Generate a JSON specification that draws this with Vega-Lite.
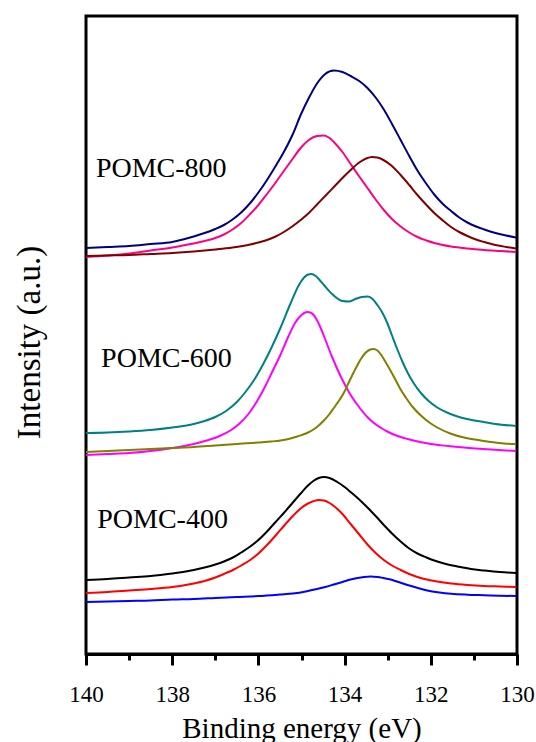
{
  "$schema": "https://vega.github.io/schema/vega-lite/v6.json",
  "autosize": "none",
  "padding": {"left": 86, "top": 16, "right": 19, "bottom": 88},
  "width": 431,
  "height": 638,
  "config": {
    "view": {"stroke": "black", "strokeWidth": 3},
    "font": "Liberation Serif"
  },
  "datasets": {
    "curves": [
      {"s":"A","E":140,"I":406},{"s":"A","E":139.5,"I":407},{"s":"A","E":139,"I":408},{"s":"A","E":138.5,"I":410},{"s":"A","E":138,"I":412},{"s":"A","E":137.75,"I":414.5},{"s":"A","E":137.5,"I":417.5},{"s":"A","E":137.25,"I":421},{"s":"A","E":137,"I":425},{"s":"A","E":136.8,"I":429},{"s":"A","E":136.6,"I":434.5},{"s":"A","E":136.4,"I":441.5},{"s":"A","E":136.19,"I":451},{"s":"A","E":136,"I":461.5},{"s":"A","E":135.8,"I":474},{"s":"A","E":135.6,"I":488},{"s":"A","E":135.41,"I":502},{"s":"A","E":135.2,"I":520},{"s":"A","E":135.02,"I":539},{"s":"A","E":134.83,"I":556},{"s":"A","E":134.64,"I":570.5},{"s":"A","E":134.45,"I":580},{"s":"A","E":134.25,"I":583.5},{"s":"A","E":134.05,"I":582},{"s":"A","E":133.86,"I":578},{"s":"A","E":133.66,"I":573},{"s":"A","E":133.47,"I":566},{"s":"A","E":133.28,"I":556.5},{"s":"A","E":133.09,"I":544.5},{"s":"A","E":132.9,"I":530},{"s":"A","E":132.7,"I":514},{"s":"A","E":132.5,"I":498},{"s":"A","E":132.31,"I":483.5},{"s":"A","E":132.1,"I":470},{"s":"A","E":131.92,"I":459.5},{"s":"A","E":131.72,"I":450},{"s":"A","E":131.53,"I":443},{"s":"A","E":131.34,"I":436.5},{"s":"A","E":131.15,"I":431.5},{"s":"A","E":130.95,"I":427.5},{"s":"A","E":130.76,"I":424.5},{"s":"A","E":130.5,"I":421},{"s":"A","E":130.25,"I":418.5},{"s":"A","E":130.02,"I":416.5},
      {"s":"B","E":140,"I":397},{"s":"B","E":139.5,"I":398.5},{"s":"B","E":139,"I":400.5},{"s":"B","E":138.5,"I":403.5},{"s":"B","E":138,"I":406.5},{"s":"B","E":137.75,"I":408.5},{"s":"B","E":137.5,"I":410.5},{"s":"B","E":137.25,"I":413},{"s":"B","E":137,"I":416},{"s":"B","E":136.8,"I":419.5},{"s":"B","E":136.6,"I":424.5},{"s":"B","E":136.4,"I":431},{"s":"B","E":136.19,"I":440},{"s":"B","E":136,"I":449},{"s":"B","E":135.8,"I":460},{"s":"B","E":135.6,"I":471.5},{"s":"B","E":135.41,"I":483},{"s":"B","E":135.2,"I":495.5},{"s":"B","E":135.02,"I":506},{"s":"B","E":134.83,"I":514},{"s":"B","E":134.64,"I":518},{"s":"B","E":134.48,"I":518.5},{"s":"B","E":134.35,"I":516},{"s":"B","E":134.25,"I":512},{"s":"B","E":134.05,"I":502},{"s":"B","E":133.86,"I":490},{"s":"B","E":133.66,"I":477.5},{"s":"B","E":133.47,"I":466},{"s":"B","E":133.28,"I":454.5},{"s":"B","E":133.09,"I":444},{"s":"B","E":132.9,"I":435},{"s":"B","E":132.7,"I":427.5},{"s":"B","E":132.5,"I":421.5},{"s":"B","E":132.31,"I":417},{"s":"B","E":132.1,"I":413.5},{"s":"B","E":131.92,"I":411},{"s":"B","E":131.53,"I":407.5},{"s":"B","E":131.15,"I":405.5},{"s":"B","E":130.76,"I":404},{"s":"B","E":130.4,"I":403},{"s":"B","E":130.02,"I":402},
      {"s":"C","E":140,"I":398},{"s":"C","E":139.5,"I":398.5},{"s":"C","E":139,"I":399},{"s":"C","E":138.5,"I":400},{"s":"C","E":138,"I":401},{"s":"C","E":137.5,"I":402.5},{"s":"C","E":137,"I":404.5},{"s":"C","E":136.6,"I":406.5},{"s":"C","E":136.19,"I":409.5},{"s":"C","E":136,"I":411.5},{"s":"C","E":135.8,"I":414},{"s":"C","E":135.6,"I":417.5},{"s":"C","E":135.41,"I":422},{"s":"C","E":135.2,"I":428},{"s":"C","E":135.02,"I":434},{"s":"C","E":134.83,"I":441},{"s":"C","E":134.64,"I":449.5},{"s":"C","E":134.45,"I":458},{"s":"C","E":134.25,"I":467},{"s":"C","E":134.05,"I":476},{"s":"C","E":133.86,"I":484},{"s":"C","E":133.66,"I":491.5},{"s":"C","E":133.5,"I":495.5},{"s":"C","E":133.36,"I":497},{"s":"C","E":133.24,"I":496.5},{"s":"C","E":133.1,"I":494},{"s":"C","E":132.93,"I":489},{"s":"C","E":132.7,"I":479},{"s":"C","E":132.5,"I":469},{"s":"C","E":132.31,"I":459},{"s":"C","E":132.1,"I":449},{"s":"C","E":131.92,"I":441},{"s":"C","E":131.72,"I":433.5},{"s":"C","E":131.53,"I":427},{"s":"C","E":131.34,"I":422},{"s":"C","E":131.15,"I":418},{"s":"C","E":130.95,"I":414.5},{"s":"C","E":130.76,"I":412},{"s":"C","E":130.5,"I":409},{"s":"C","E":130.25,"I":407},{"s":"C","E":130.02,"I":405.5},
      {"s":"D","E":140,"I":221},{"s":"D","E":139.5,"I":221.5},{"s":"D","E":139,"I":222.5},{"s":"D","E":138.5,"I":224},{"s":"D","E":138,"I":226.5},{"s":"D","E":137.5,"I":230},{"s":"D","E":137.25,"I":233},{"s":"D","E":137,"I":237},{"s":"D","E":136.75,"I":243},{"s":"D","E":136.5,"I":252},{"s":"D","E":136.3,"I":262},{"s":"D","E":136.1,"I":274},{"s":"D","E":135.9,"I":289},{"s":"D","E":135.7,"I":306},{"s":"D","E":135.49,"I":326},{"s":"D","E":135.26,"I":350},{"s":"D","E":135.06,"I":369},{"s":"D","E":134.95,"I":376},{"s":"D","E":134.87,"I":379},{"s":"D","E":134.77,"I":380},{"s":"D","E":134.67,"I":378},{"s":"D","E":134.58,"I":374},{"s":"D","E":134.48,"I":369},{"s":"D","E":134.29,"I":360},{"s":"D","E":134.15,"I":355},{"s":"D","E":134.05,"I":353},{"s":"D","E":133.9,"I":352.5},{"s":"D","E":133.75,"I":355},{"s":"D","E":133.6,"I":357},{"s":"D","E":133.46,"I":357.5},{"s":"D","E":133.35,"I":355},{"s":"D","E":133.24,"I":349},{"s":"D","E":133.12,"I":341},{"s":"D","E":133.01,"I":331},{"s":"D","E":132.9,"I":318.5},{"s":"D","E":132.78,"I":305},{"s":"D","E":132.66,"I":292.5},{"s":"D","E":132.54,"I":281.5},{"s":"D","E":132.4,"I":271},{"s":"D","E":132.23,"I":261},{"s":"D","E":132.05,"I":253},{"s":"D","E":131.85,"I":246.5},{"s":"D","E":131.6,"I":241},{"s":"D","E":131.38,"I":237.5},{"s":"D","E":131.1,"I":234.5},{"s":"D","E":130.84,"I":232.5},{"s":"D","E":130.5,"I":230},{"s":"D","E":130.02,"I":228},
      {"s":"E","E":140,"I":199},{"s":"E","E":139.5,"I":200},{"s":"E","E":139,"I":201},{"s":"E","E":138.5,"I":203},{"s":"E","E":138,"I":206},{"s":"E","E":137.5,"I":210},{"s":"E","E":137.2,"I":213.5},{"s":"E","E":136.9,"I":218},{"s":"E","E":136.65,"I":223.5},{"s":"E","E":136.45,"I":230},{"s":"E","E":136.25,"I":239},{"s":"E","E":136.03,"I":253},{"s":"E","E":135.85,"I":267},{"s":"E","E":135.67,"I":283},{"s":"E","E":135.49,"I":299},{"s":"E","E":135.3,"I":318},{"s":"E","E":135.15,"I":331},{"s":"E","E":135,"I":339},{"s":"E","E":134.87,"I":342},{"s":"E","E":134.77,"I":341},{"s":"E","E":134.67,"I":336},{"s":"E","E":134.57,"I":327.5},{"s":"E","E":134.48,"I":318},{"s":"E","E":134.29,"I":297},{"s":"E","E":134.09,"I":277.5},{"s":"E","E":133.86,"I":259},{"s":"E","E":133.63,"I":245},{"s":"E","E":133.45,"I":236},{"s":"E","E":133.32,"I":231},{"s":"E","E":133.15,"I":226},{"s":"E","E":133.01,"I":222.5},{"s":"E","E":132.8,"I":218.5},{"s":"E","E":132.54,"I":215},{"s":"E","E":132.25,"I":212},{"s":"E","E":132,"I":210},{"s":"E","E":131.6,"I":208},{"s":"E","E":131.23,"I":206.5},{"s":"E","E":130.6,"I":204.5},{"s":"E","E":130.02,"I":203},
      {"s":"F","E":140,"I":202},{"s":"F","E":139.5,"I":203},{"s":"F","E":139,"I":204},{"s":"F","E":138.5,"I":205},{"s":"F","E":138,"I":206},{"s":"F","E":137.5,"I":207},{"s":"F","E":137,"I":208.5},{"s":"F","E":136.5,"I":210},{"s":"F","E":136,"I":211.5},{"s":"F","E":135.7,"I":212.5},{"s":"F","E":135.49,"I":213.5},{"s":"F","E":135.3,"I":215},{"s":"F","E":135.1,"I":217.5},{"s":"F","E":134.87,"I":221},{"s":"F","E":134.67,"I":226},{"s":"F","E":134.48,"I":233.5},{"s":"F","E":134.35,"I":240},{"s":"F","E":134.25,"I":246},{"s":"F","E":134.12,"I":254},{"s":"F","E":134.02,"I":261},{"s":"F","E":133.92,"I":270},{"s":"F","E":133.82,"I":279},{"s":"F","E":133.72,"I":287.5},{"s":"F","E":133.63,"I":294.5},{"s":"F","E":133.53,"I":300.5},{"s":"F","E":133.43,"I":304},{"s":"F","E":133.33,"I":305},{"s":"F","E":133.24,"I":303.5},{"s":"F","E":133.15,"I":299},{"s":"F","E":133.05,"I":292},{"s":"F","E":132.93,"I":283},{"s":"F","E":132.81,"I":273.5},{"s":"F","E":132.7,"I":264.5},{"s":"F","E":132.58,"I":256.5},{"s":"F","E":132.42,"I":247},{"s":"F","E":132.23,"I":238.5},{"s":"F","E":132.05,"I":232},{"s":"F","E":131.85,"I":226.5},{"s":"F","E":131.55,"I":220.5},{"s":"F","E":131.23,"I":216.5},{"s":"F","E":130.9,"I":214},{"s":"F","E":130.6,"I":212},{"s":"F","E":130.3,"I":210.5},{"s":"F","E":130.02,"I":210},
      {"s":"G","E":140,"I":74},{"s":"G","E":139.5,"I":75},{"s":"G","E":139,"I":76.5},{"s":"G","E":138.5,"I":78},{"s":"G","E":138,"I":80.5},{"s":"G","E":137.75,"I":82},{"s":"G","E":137.5,"I":84},{"s":"G","E":137.25,"I":86.5},{"s":"G","E":137,"I":89.5},{"s":"G","E":136.8,"I":92.5},{"s":"G","E":136.57,"I":97},{"s":"G","E":136.4,"I":101.5},{"s":"G","E":136.19,"I":107.5},{"s":"G","E":136,"I":114},{"s":"G","E":135.8,"I":122.5},{"s":"G","E":135.6,"I":132},{"s":"G","E":135.41,"I":141},{"s":"G","E":135.2,"I":151.5},{"s":"G","E":135.02,"I":160.5},{"s":"G","E":134.85,"I":168.5},{"s":"G","E":134.71,"I":173.5},{"s":"G","E":134.6,"I":176},{"s":"G","E":134.48,"I":177},{"s":"G","E":134.35,"I":176},{"s":"G","E":134.17,"I":172},{"s":"G","E":134,"I":167},{"s":"G","E":133.86,"I":162},{"s":"G","E":133.66,"I":154.5},{"s":"G","E":133.47,"I":146.5},{"s":"G","E":133.28,"I":138},{"s":"G","E":133.09,"I":129},{"s":"G","E":132.9,"I":120.5},{"s":"G","E":132.7,"I":112.5},{"s":"G","E":132.5,"I":105.5},{"s":"G","E":132.31,"I":100.5},{"s":"G","E":132.1,"I":96.5},{"s":"G","E":131.92,"I":93.5},{"s":"G","E":131.65,"I":90},{"s":"G","E":131.38,"I":87.5},{"s":"G","E":131.07,"I":85},{"s":"G","E":130.76,"I":83.5},{"s":"G","E":130.4,"I":82},{"s":"G","E":130.02,"I":81},
      {"s":"H","E":140,"I":61},{"s":"H","E":139.5,"I":62},{"s":"H","E":139,"I":63.5},{"s":"H","E":138.5,"I":65},{"s":"H","E":138,"I":67},{"s":"H","E":137.75,"I":68.5},{"s":"H","E":137.5,"I":70.5},{"s":"H","E":137.25,"I":73},{"s":"H","E":137,"I":76.5},{"s":"H","E":136.8,"I":80},{"s":"H","E":136.57,"I":84.5},{"s":"H","E":136.4,"I":88.5},{"s":"H","E":136.19,"I":94},{"s":"H","E":136,"I":100.5},{"s":"H","E":135.8,"I":109},{"s":"H","E":135.6,"I":118.5},{"s":"H","E":135.41,"I":128},{"s":"H","E":135.2,"I":138},{"s":"H","E":135.02,"I":145.5},{"s":"H","E":134.85,"I":150.5},{"s":"H","E":134.71,"I":153},{"s":"H","E":134.6,"I":154},{"s":"H","E":134.48,"I":153.5},{"s":"H","E":134.35,"I":151},{"s":"H","E":134.25,"I":148},{"s":"H","E":134.05,"I":140},{"s":"H","E":133.86,"I":130},{"s":"H","E":133.66,"I":119.5},{"s":"H","E":133.47,"I":109.5},{"s":"H","E":133.28,"I":101},{"s":"H","E":133.09,"I":94},{"s":"H","E":132.9,"I":88.5},{"s":"H","E":132.7,"I":84},{"s":"H","E":132.5,"I":80},{"s":"H","E":132.31,"I":77},{"s":"H","E":131.92,"I":73},{"s":"H","E":131.53,"I":70.5},{"s":"H","E":131.15,"I":69},{"s":"H","E":130.76,"I":68},{"s":"H","E":130.4,"I":67.5},{"s":"H","E":130.02,"I":67},
      {"s":"I","E":140,"I":52},{"s":"I","E":139.5,"I":52.5},{"s":"I","E":139,"I":53},{"s":"I","E":138.5,"I":53.5},{"s":"I","E":138,"I":54.5},{"s":"I","E":137.5,"I":55},{"s":"I","E":137,"I":56},{"s":"I","E":136.5,"I":57},{"s":"I","E":136,"I":58},{"s":"I","E":135.5,"I":59.5},{"s":"I","E":135.2,"I":60.5},{"s":"I","E":134.9,"I":62.5},{"s":"I","E":134.64,"I":65},{"s":"I","E":134.45,"I":67},{"s":"I","E":134.25,"I":69.5},{"s":"I","E":134.05,"I":72},{"s":"I","E":133.86,"I":74.5},{"s":"I","E":133.7,"I":76},{"s":"I","E":133.55,"I":77},{"s":"I","E":133.4,"I":77.5},{"s":"I","E":133.24,"I":77},{"s":"I","E":133.1,"I":76},{"s":"I","E":132.93,"I":74.5},{"s":"I","E":132.75,"I":72},{"s":"I","E":132.54,"I":69},{"s":"I","E":132.3,"I":66},{"s":"I","E":132.08,"I":63.5},{"s":"I","E":131.8,"I":61.5},{"s":"I","E":131.53,"I":60.2},{"s":"I","E":131.15,"I":59.3},{"s":"I","E":130.76,"I":58.8},{"s":"I","E":130.4,"I":58.3},{"s":"I","E":130.02,"I":58}
    ],
    "labels": [
      {"t": "POMC-800", "E": 139.77, "I": 477},
      {"t": "POMC-600", "E": 139.65, "I": 287},
      {"t": "POMC-400", "E": 139.74, "I": 126}
    ]
  },
  "layer": [
    {
      "data": {"name": "curves"},
      "mark": {"type": "line", "strokeWidth": 2, "interpolate": "monotone", "clip": true},
      "encoding": {
        "x": {
          "field": "E", "type": "quantitative",
          "scale": {"domain": [130, 140], "reverse": true, "nice": false, "zero": false},
          "axis": {
            "values": [140, 139, 138, 137, 136, 135, 134, 133, 132, 131, 130],
            "labelExpr": "datum.value % 2 === 0 ? datum.label : ''",
            "tickSize": {"condition": {"test": "datum.value % 2 === 0", "value": 11}, "value": 6},
            "tickWidth": 3, "tickColor": "black",
            "domainWidth": 3, "domainColor": "black",
            "grid": false,
            "labelFont": "Liberation Serif", "labelFontSize": 23, "labelColor": "black",
            "labelBaseline": "alphabetic", "labelPadding": 36, "labelFlush": false, "labelOverlap": false,
            "title": "Binding energy (eV)",
            "titleFont": "Liberation Serif", "titleFontSize": 29, "titleFontWeight": "normal", "titleColor": "black",
            "titleBaseline": "alphabetic", "titleY": 83
          }
        },
        "y": {
          "field": "I", "type": "quantitative",
          "scale": {"domain": [0, 638], "nice": false, "zero": false},
          "axis": {
            "ticks": false, "labels": false, "domain": false, "grid": false,
            "title": "Intensity (a.u.)",
            "titleFont": "Liberation Serif", "titleFontSize": 33, "titleFontWeight": "normal", "titleColor": "black",
            "titleAngle": -90, "titleBaseline": "middle", "titleAlign": "center",
            "titleX": -57, "titleY": 326
          }
        },
        "color": {
          "field": "s", "type": "nominal", "legend": null,
          "scale": {
            "domain": ["A", "B", "C", "D", "E", "F", "G", "H", "I"],
            "range": ["#000080", "#FF0080", "#800000", "#008080", "#FF00FF", "#808000", "#000000", "#FF0000", "#0000FF"]
          }
        }
      }
    },
    {
      "data": {"name": "labels"},
      "mark": {"type": "text", "align": "left", "baseline": "alphabetic", "font": "Liberation Serif", "fontSize": 28, "color": "black"},
      "encoding": {
        "x": {"field": "E", "type": "quantitative"},
        "y": {"field": "I", "type": "quantitative"},
        "text": {"field": "t"}
      }
    }
  ]
}
